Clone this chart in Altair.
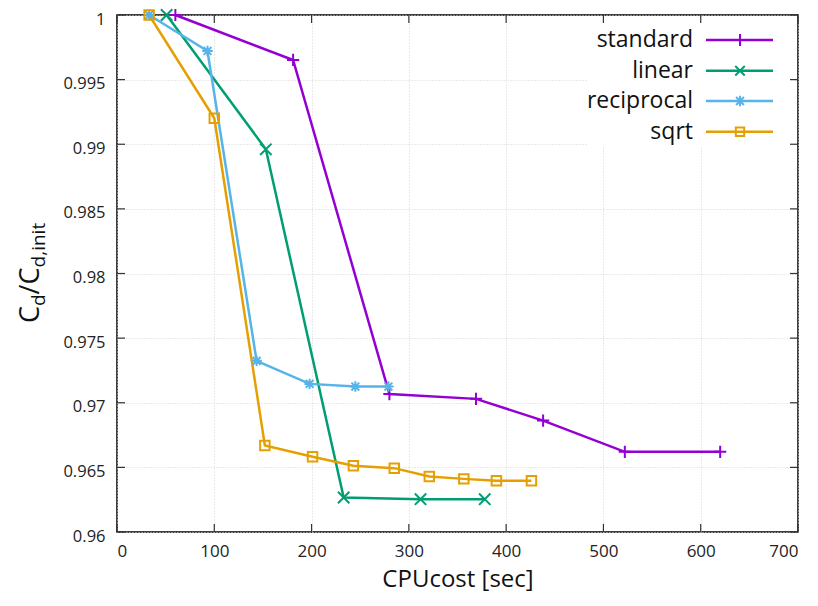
import altair as alt
import pandas as pd

# ---- data ----
series = ["standard", "linear", "reciprocal", "sqrt"]
colors = ["#9400D3", "#009E73", "#56B4E9", "#E69F00"]

std_x = [60, 181, 280, 369, 438, 522, 620]
std_y = [1.0, 0.99652, 0.97067, 0.9703, 0.96862, 0.9662, 0.9662]
lin_x = [51, 153, 233, 312, 378]
lin_y = [1.0, 0.98961, 0.96267, 0.96254, 0.96254]
rec_x = [33, 93, 143.5, 198, 245, 279]
rec_y = [1.0, 0.99722, 0.97324, 0.97146, 0.97125, 0.97125]
sq_x = [33, 100, 152, 201, 243, 285, 321, 356.5, 390, 426]
sq_y = [1.0, 0.99201, 0.96669, 0.96582, 0.96512, 0.96494, 0.96430, 0.96411, 0.96396, 0.96396]

x_ticks = [0, 100, 200, 300, 400, 500, 600, 700]
y_ticks = [0.96, 0.965, 0.97, 0.975, 0.98, 0.985, 0.99, 0.995, 1.0]

# marker shapes (stroked paths)
PLUS = "M-1,0L1,0M0,-1L0,1"
CROSS = "M-1,-1L1,1M-1,1L1,-1"
STAR = "M-1,0L1,0M0,-1L0,1M-0.75,-0.75L0.75,0.75M-0.75,0.75L0.75,-0.75"
shapes = [PLUS, CROSS, STAR, "square"]
sizes = [150, 90, 110, 70]

W, H = 681, 517
FONT = "Open Sans"

rows = []
for s, xs, ys in [("standard", std_x, std_y), ("linear", lin_x, lin_y),
                  ("reciprocal", rec_x, rec_y), ("sqrt", sq_x, sq_y)]:
    for i, (a, b) in enumerate(zip(xs, ys)):
        rows.append({"series": s, "x": a, "y": b, "idx": i})
df = pd.DataFrame(rows)

xscale = alt.Scale(domain=[0, 700], nice=False, zero=False)
yscale = alt.Scale(domain=[0.96, 1.0], nice=False, zero=False)
cscale = alt.Scale(domain=series, range=colors)

x_enc = alt.X("x:Q", scale=xscale, axis=alt.Axis(
    values=x_ticks, format="d", labelFont=FONT, labelFontSize=17, labelColor="#222",
    labelPadding=11, ticks=False, domain=False, grid=True, gridColor="#d4d4d4",
    gridDash=[1, 2], gridWidth=1, title="CPUcost [sec]", titleFont=FONT,
    titleFontSize=24, titleFontWeight="normal", titleColor="#111", titlePadding=8))
y_enc = alt.Y("y:Q", scale=yscale, axis=alt.Axis(
    values=y_ticks, format="~g", labelFont=FONT, labelFontSize=16.5, labelColor="#222",
    labelPadding=12, labelOffset=4, ticks=False, domain=False, grid=True, gridColor="#d4d4d4",
    gridDash=[1, 2], gridWidth=1, title=None))

base = alt.Chart(df)
lines = base.mark_line(strokeWidth=2.5).encode(
    x=x_enc, y=y_enc,
    color=alt.Color("series:N", scale=cscale, legend=None),
    order="idx:Q")
points = base.mark_point(filled=False, strokeWidth=2, opacity=1).encode(
    x="x:Q", y="y:Q",
    color=alt.Color("series:N", scale=cscale, legend=None),
    shape=alt.Shape("series:N", scale=alt.Scale(domain=series, range=shapes), legend=None),
    size=alt.Size("series:N", scale=alt.Scale(domain=series, range=sizes), legend=None))

one = pd.DataFrame({"a": [0]})
legend_bg = alt.Chart(one).mark_rect(color="white").encode(
    x=alt.value(471), x2=alt.value(678), y=alt.value(3), y2=alt.value(131))

xt = pd.DataFrame({"x": x_ticks})
yt = pd.DataFrame({"y": y_ticks})
tick_style = dict(color="#333", strokeWidth=1.2)
ticks = [
    alt.Chart(xt).mark_rule(**tick_style).encode(x="x:Q", y=alt.value(H), y2=alt.value(H - 8)),
    alt.Chart(xt).mark_rule(**tick_style).encode(x="x:Q", y=alt.value(0), y2=alt.value(8)),
    alt.Chart(yt).mark_rule(**tick_style).encode(y="y:Q", x=alt.value(0), x2=alt.value(8)),
    alt.Chart(yt).mark_rule(**tick_style).encode(y="y:Q", x=alt.value(W), x2=alt.value(W - 8)),
]

legend_layers = []
row_y = [25, 55.7, 86, 116.7]
for s, c, shp, sz, ry in zip(series, colors, shapes, sizes, row_y):
    ld = pd.DataFrame({"series": [s]})
    legend_layers.append(alt.Chart(ld).mark_rule(color=c, strokeWidth=2.5).encode(
        x=alt.value(589), x2=alt.value(656), y=alt.value(ry)))
    legend_layers.append(alt.Chart(ld).mark_point(filled=False, strokeWidth=2, opacity=1, color=c).encode(
        x=alt.value(623), y=alt.value(ry), shape=alt.value(shp), size=alt.value(sz)))
    legend_layers.append(alt.Chart(ld).mark_text(align="right", baseline="middle", font=FONT,
                                                 fontSize=23, color="#111").encode(
        x=alt.value(576), y=alt.value(ry), text="series:N"))

# y-axis title C_d/C_d,init built from pieces
title_pieces = [("C", 27, 0), ("d", 19, 6), ("/C", 27, 0), ("d,init", 19, 6)]
piece_len = [17.0, 11.6, 27.0, 44.7]
title_layers = []
ypos = 308
for (t, fs, off), ln in zip(title_pieces, piece_len):
    title_layers.append(alt.Chart(one).mark_text(angle=270, align="left", baseline="alphabetic",
                                                 font=FONT, fontSize=fs, color="#111").encode(
        x=alt.value(-78 + off), y=alt.value(ypos), text=alt.value(t)))
    ypos -= ln

chart = alt.layer(lines, legend_bg, points, *ticks, *legend_layers, *title_layers).properties(
    width=W, height=H,
    autosize=alt.AutoSizeParams(type="none"),
    padding={"left": 109, "top": 7, "right": 12, "bottom": 66},
).configure_view(stroke="black", strokeWidth=1.5)

chart.save("out.html", embed_options={"renderer": "svg", "actions": False})
